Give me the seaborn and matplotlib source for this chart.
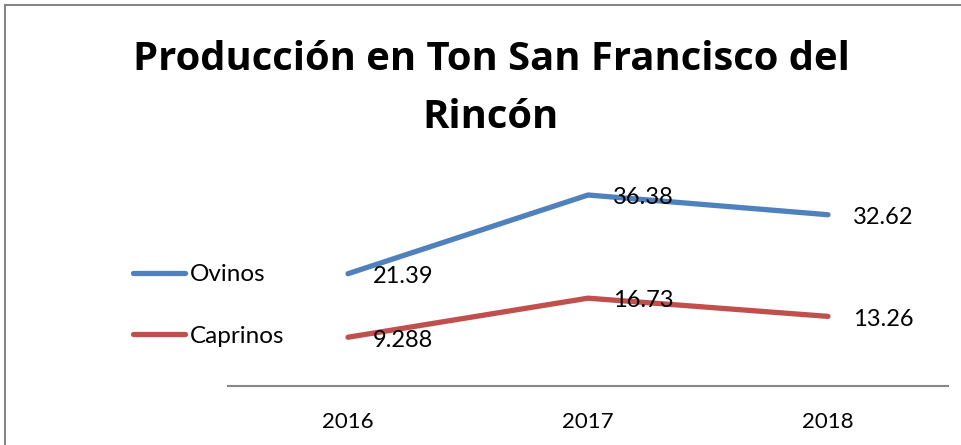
import pandas as pd
import matplotlib
matplotlib.use("Agg")
import matplotlib.pyplot as plt
import seaborn as sns
from matplotlib.patches import Rectangle

anios = ["2016", "2017", "2018"]
ovinos = [21.39, 36.38, 32.62]
caprinos = [9.288, 16.73, 13.26]
etiquetas_ovinos = ["21.39", "36.38", "32.62"]
etiquetas_caprinos = ["9.288", "16.73", "13.26"]
colores = {"Ovinos": "#4F81BD", "Caprinos": "#C0504D"}

sns.set_style("white")
plt.rcParams["font.family"] = ["Lato", "DejaVu Sans"]
plt.rcParams["text.color"] = "black"
plt.rcParams["xtick.color"] = "black"

df = pd.DataFrame({
    "pos": list(range(len(anios))) * 2,
    "valor": ovinos + caprinos,
    "serie": ["Ovinos"] * len(anios) + ["Caprinos"] * len(anios),
})

fig = plt.figure(figsize=(9.61, 4.45), dpi=100)
ax = fig.add_axes([228 / 961, 59 / 445, 720 / 961, 210 / 445])

sns.lineplot(data=df, x="pos", y="valor", hue="serie", palette=colores,
             linewidth=3.8, solid_capstyle="round", ax=ax)

ax.set_xlim(-0.5, len(anios) - 0.5)
ax.set_ylim(0, 40)
ax.set_xticks(range(len(anios)))
ax.set_xticklabels(anios, fontsize=16, color="black")
ax.tick_params(axis="x", length=0, pad=18.5)
ax.set_yticks([])
ax.set_xlabel("")
ax.set_ylabel("")
for lado in ["top", "right", "left"]:
    ax.spines[lado].set_visible(False)
ax.spines["bottom"].set_color("#868686")
ax.spines["bottom"].set_linewidth(1.5)

for i in range(len(anios)):
    ax.annotate(etiquetas_ovinos[i], (i, ovinos[i]), xytext=(18, -2),
                textcoords="offset points", va="center", ha="left",
                fontsize=17, color="black")
    ax.annotate(etiquetas_caprinos[i], (i, caprinos[i]), xytext=(18, -2),
                textcoords="offset points", va="center", ha="left",
                fontsize=17, color="black")

sns.move_legend(ax, loc="center left", bbox_to_anchor=(133 / 961, 1 - 305.5 / 445),
                bbox_transform=fig.transFigure, frameon=False, title=None,
                fontsize=17.5, labelspacing=1.67, handlelength=2.14,
                handletextpad=0.2, borderpad=0, borderaxespad=0)
leyenda = ax.get_legend()
for linea in leyenda.get_lines():
    linea.set_linewidth(3.8)
    linea.set_solid_capstyle("round")
for texto in leyenda.get_texts():
    texto.set_color("black")

fig.text(491 / 961, 1 - 60 / 445, "Producción en Ton San Francisco del",
         ha="center", va="center", fontsize=28.8, fontweight="bold",
         color="black", family=["Open Sans", "DejaVu Sans"])
fig.text(491 / 961, 1 - 118 / 445, "Rincón",
         ha="center", va="center", fontsize=28.8, fontweight="bold",
         color="black", family=["Open Sans", "DejaVu Sans"])

fig.patches.append(Rectangle((5 / 961, -0.1), 1.2, (1 - 5 / 445) + 0.1,
                             transform=fig.transFigure, fill=False,
                             edgecolor="#868686", linewidth=1.5))

fig.savefig("out.png", dpi=100)
